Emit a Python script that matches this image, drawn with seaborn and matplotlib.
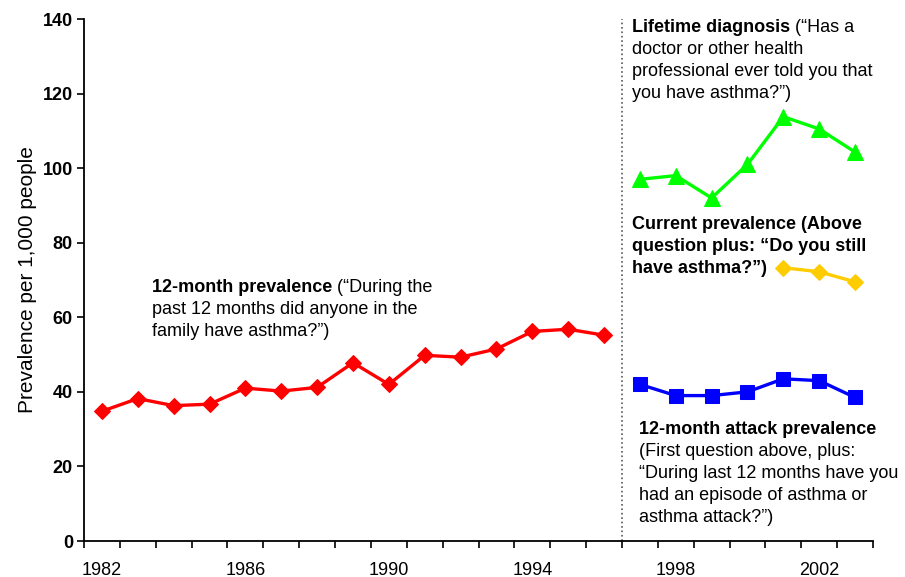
import matplotlib
matplotlib.use("Agg")
import matplotlib.pyplot as plt
from matplotlib.ticker import MultipleLocator
import seaborn as sns

# data
years_12m = list(range(1982, 1997))
prev_12m = [34.8, 38.2, 36.3, 36.7, 41.0, 40.2, 41.2, 47.8, 42.0, 49.8, 49.3, 51.5, 56.2, 56.8, 55.2]

years_new = list(range(1997, 2004))
lifetime = [97.0, 98.0, 92.0, 101.0, 113.8, 110.5, 104.3]
attack = [42.0, 39.0, 39.0, 40.0, 43.5, 43.0, 38.5]

years_current = [2001, 2002, 2003]
current = [73.3, 72.2, 69.5]

xtick_years = [1982, 1986, 1990, 1994, 1998, 2002]
yticks = [0, 20, 40, 60, 80, 100, 120, 140]

sns.set_theme(style="ticks")
plt.rcParams['font.family'] = ['Liberation Sans', 'DejaVu Sans']
plt.rcParams['text.color'] = 'black'
plt.rcParams['axes.labelcolor'] = 'black'
plt.rcParams['xtick.color'] = 'black'
plt.rcParams['ytick.color'] = 'black'

fig = plt.figure(figsize=(9.05, 5.77), dpi=100)
ax = fig.add_axes([84 / 905, 1 - 541 / 577, (873 - 84) / 905, (541 - 19) / 577])

sns.lineplot(x=years_12m, y=prev_12m, ax=ax, color="#FF0000", lw=2.4,
             marker="D", markersize=8.5, markeredgecolor="#FF0000")
sns.lineplot(x=years_new, y=lifetime, ax=ax, color="#00FF00", lw=2.4,
             marker="^", markersize=11, markeredgecolor="#00FF00")
sns.lineplot(x=years_current, y=current, ax=ax, color="#FFCC00", lw=2.4,
             marker="D", markersize=8.5, markeredgecolor="#FFCC00")
sns.lineplot(x=years_new, y=attack, ax=ax, color="#0000FF", lw=2.4,
             marker="s", markersize=10, markeredgecolor="#0000FF")

ax.axvline(1996.5, color="0.35", ls=":", lw=1.2)

ax.set_xlim(1981.5, 2003.5)
ax.set_ylim(0, 140)
ax.set_xticks(xtick_years)
ax.set_xticklabels([str(y) for y in xtick_years], fontsize=13)
ax.xaxis.set_minor_locator(MultipleLocator(1, offset=0.5))
ax.tick_params(axis="x", which="major", length=0, pad=15)
ax.tick_params(axis="x", which="minor", length=5, width=1.2)
ax.set_yticks(yticks)
ax.set_yticklabels([str(v) for v in yticks], fontsize=13, fontweight="bold")
ax.tick_params(axis="y", length=5, width=1.2, pad=3)
ax.set_ylabel("Prevalence per 1,000 people", fontsize=15, labelpad=4)
sns.despine(ax=ax)
for s in ("left", "bottom"):
    ax.spines[s].set_color("black")
    ax.spines[s].set_linewidth(1.3)

fs = 13
dy = 22 / 3.7286  # one text line in data units


def block(x, y0, lines):
    # lines: list of (bold_part, regular_part)
    for i, (b, r) in enumerate(lines):
        y = y0 - i * dy
        if b:
            t = ax.text(x, y, b, fontsize=fs, fontweight="bold", va="baseline", clip_on=False)
            if r:
                ax.annotate(r, xy=(1, 0), xycoords=t, va="bottom", fontsize=fs)
        else:
            ax.text(x, y, r, fontsize=fs, va="baseline", clip_on=False)


block(1983.4, 66.8, [
    ("12-month prevalence", " (\u201cDuring the"),
    ("", "past 12 months did anyone in the"),
    ("", "family have asthma?\u201d)"),
])

block(1996.78, 136.5, [
    ("Lifetime diagnosis", " (\u201cHas a"),
    ("", "doctor or other health"),
    ("", "professional ever told you that"),
    ("", "you have asthma?\u201d)"),
])

block(1996.78, 83.7, [
    ("Current prevalence (Above", ""),
    ("question plus: \u201cDo you still", ""),
    ("have asthma?\u201d)", ""),
])

block(1996.98, 28.7, [
    ("12-month attack prevalence", ""),
    ("", "(First question above, plus:"),
    ("", "\u201cDuring last 12 months have you"),
    ("", "had an episode of asthma or"),
    ("", "asthma attack?\u201d)"),
])

fig.savefig("out.png", dpi=100)
